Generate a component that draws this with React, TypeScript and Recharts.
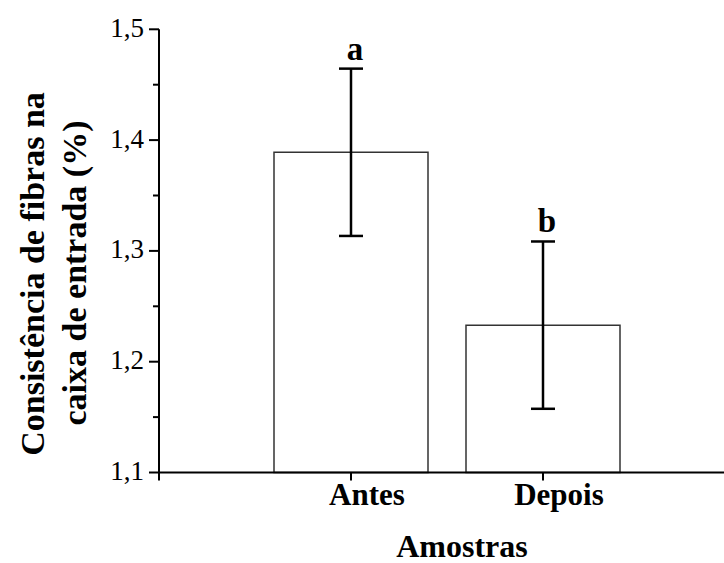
import React from "react";
import { Bar, BarChart, ErrorBar, ReferenceDot, XAxis, YAxis } from "recharts";

const categories = ["Antes", "Depois"];
const positions = [1, 2];
const means = [1.389, 1.233];
const errors = [0.0755, 0.0755];
const letters = ["a", "b"];
const yTicks = [1.1, 1.15, 1.2, 1.25, 1.3, 1.35, 1.4, 1.45, 1.5];
const xTicks = [0, 1, 2, 3];

const data = categories.map((name, i) => ({
  name,
  pos: positions[i],
  mean: means[i],
  err: errors[i],
}));

const FONT = "Liberation Serif";

function YTick(props: any) {
  const { x, y, payload } = props;
  const v = payload.value as number;
  const major = Math.abs(v * 10 - Math.round(v * 10)) < 1e-6;
  return (
    <g>
      <line x1={major ? x + 5 : x + 9} x2={x + 15} y1={y} y2={y} stroke="#000" strokeWidth={2} />
      {major && (
        <text x={x} y={y} dy="0.28em" textAnchor="end" fontFamily={FONT} fontSize={27} fill="#000">
          {v.toFixed(1).replace(".", ",")}
        </text>
      )}
    </g>
  );
}

function XTick(props: any) {
  const { x, y, payload } = props;
  const idx = positions.indexOf(payload.value);
  if (idx < 0) return null;
  return (
    <text x={x + 16} y={y} dy="0.71em" textAnchor="middle" fontFamily={FONT} fontWeight="bold" fontSize={31} fill="#000">
      {categories[idx]}
    </text>
  );
}

function YLabel() {
  return (
    <g>
      <text x={44} y={274} transform="rotate(-90 44 274)" textAnchor="middle" fontFamily={FONT} fontWeight="bold" fontSize={34} fill="#000">
        Consistência de fibras na
      </text>
      <text x={86} y={273} transform="rotate(-90 86 273)" textAnchor="middle" fontFamily={FONT} fontWeight="bold" fontSize={34} fill="#000">
        caixa de entrada (%)
      </text>
    </g>
  );
}

function XLabel() {
  return (
    <text x={462} y={557} textAnchor="middle" fontFamily={FONT} fontWeight="bold" fontSize={32} fill="#000">
      Amostras
    </text>
  );
}

function Letter(props: any) {
  const { viewBox, value } = props;
  const cx = viewBox.x + viewBox.width / 2;
  return (
    <text x={cx + 4} y={viewBox.y - 8} textAnchor="middle" fontFamily={FONT} fontWeight="bold" fontSize={33} fill="#000">
      {value}
    </text>
  );
}

export default function App() {
  // x axis runs on past the right edge, so clip the chart to the window
  return (
    <div style={{ position: "absolute", left: 0, top: 0, width: 724, height: 563, overflow: "hidden", background: "#fff" }}>
      <BarChart width={735} height={563} data={data} margin={{ top: 29.3, right: 0, bottom: 30.5, left: 0 }}>
        <XAxis
          type="number"
          dataKey="pos"
          domain={[0, 3]}
          ticks={xTicks}
          interval={0}
          height={60}
          tickSize={8}
          axisLine={{ stroke: "#000", strokeWidth: 2 }}
          tickLine={{ stroke: "#000", strokeWidth: 2 }}
          tick={<XTick />}
          label={<XLabel />}
        />
        <YAxis
          type="number"
          domain={[1.1, 1.5]}
          ticks={yTicks}
          interval={0}
          width={159}
          tickSize={10}
          tickMargin={5}
          tickLine={false}
          axisLine={{ stroke: "#000", strokeWidth: 2 }}
          tick={<YTick />}
          label={<YLabel />}
        />
        <Bar dataKey="mean" barSize={154} fill="#fff" stroke="#333" strokeWidth={1.5} isAnimationActive={false}>
          <ErrorBar dataKey="err" width={12} stroke="#000" strokeWidth={2.5} />
        </Bar>
        {data.map((d, i) => (
          <ReferenceDot
            key={d.name}
            x={d.pos}
            y={d.mean + d.err}
            r={1}
            fill="none"
            stroke="none"
            label={<Letter value={letters[i]} />}
          />
        ))}
      </BarChart>
    </div>
  );
}
